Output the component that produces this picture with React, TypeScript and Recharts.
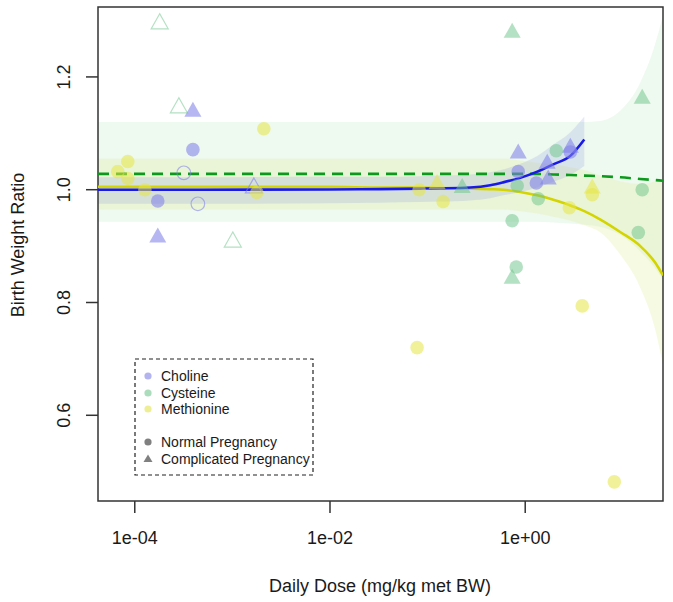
import React from "react";
import { ComposedChart, XAxis, YAxis, Area, Line, Scatter, ReferenceArea } from "recharts";

const FONT = '"Liberation Sans", Arial, Helvetica, sans-serif';
const TEXT = "#1a1a1a";

// plotting window (R style: log10 dose on x)
const X_MIN = 4.2e-5;
const X_MAX = 25.8;
const Y_MIN = 0.448;
const Y_MAX = 1.324;
const xTicks = [1e-4, 1e-2, 1];
const yTicks = [0.6, 0.8, 1.0, 1.2];

// fitted curves + confidence bands
const fitDose = [4.2e-5, 4.6e-4, 0.01, 0.0326, 0.084, 0.134, 0.273, 0.438, 0.594, 0.89, 1.33, 1.94, 2.9, 4.03, 5.9, 9.4, 15.1, 21.6, 25.8];
const cholineFit = [1.0, 1.0, 1.0005, 1.001, 1.002, 1.0025, 1.004, 1.008, 1.013, 1.021, 1.032, 1.045, 1.06, 1.089, null, null, null, null, null];
const cholineLo = [0.975, 0.975, 0.976, 0.977, 0.978, 0.979, 0.981, 0.985, 0.99, 0.996, 1.004, 1.014, 1.026, 1.042, null, null, null, null, null];
const cholineHi = [1.022, 1.022, 1.023, 1.023, 1.024, 1.025, 1.027, 1.031, 1.036, 1.046, 1.06, 1.08, 1.102, 1.13, null, null, null, null, null];
const cysteineFit = [1.028, 1.028, 1.028, 1.028, 1.028, 1.028, 1.028, 1.028, 1.028, 1.028, 1.028, 1.027, 1.026, 1.025, 1.024, 1.022, 1.019, 1.017, 1.016];
const cysteineLo = [0.943, 0.943, 0.943, 0.943, 0.943, 0.943, 0.943, 0.943, 0.943, 0.943, 0.943, 0.942, 0.94, 0.938, 0.934, 0.92, 0.89, 0.86, 0.84];
const cysteineHi = [1.12, 1.12, 1.12, 1.12, 1.12, 1.12, 1.12, 1.12, 1.12, 1.12, 1.12, 1.12, 1.12, 1.12, 1.122, 1.14, 1.19, 1.26, 1.31];
const methionineFit = [1.005, 1.005, 1.005, 1.004, 1.004, 1.003, 1.002, 1.001, 1.0, 0.996, 0.99, 0.982, 0.972, 0.962, 0.947, 0.925, 0.9, 0.87, 0.848];
const methionineLo = [0.965, 0.965, 0.965, 0.965, 0.965, 0.965, 0.965, 0.965, 0.965, 0.962, 0.958, 0.952, 0.945, 0.937, 0.924, 0.885, 0.826, 0.75, 0.69];
const methionineHi = [1.055, 1.055, 1.055, 1.055, 1.055, 1.055, 1.055, 1.055, 1.055, 1.052, 1.048, 1.045, 1.04, 1.035, 1.025, 1.015, 1.01, 1.015, 1.02];

// observations
const cholineNormal = [
  { dose: 3.94e-4, ratio: 1.071 },
  { dose: 1.72e-4, ratio: 0.98 },
  { dose: 0.848, ratio: 1.032 },
  { dose: 2.9, ratio: 1.067 },
  { dose: 1.3, ratio: 1.012 },
];
const cholineNormalOpen = [
  { dose: 3.18e-4, ratio: 1.03 },
  { dose: 4.43e-4, ratio: 0.975 },
];
const cholineComplicated = [
  { dose: 3.94e-4, ratio: 1.14 },
  { dose: 1.72e-4, ratio: 0.917 },
  { dose: 0.848, ratio: 1.066 },
  { dose: 2.9, ratio: 1.076 },
  { dose: 1.68, ratio: 1.048 },
  { dose: 1.72, ratio: 1.02 },
];
const cholineComplicatedOpen = [{ dose: 1.66e-3, ratio: 1.005 }];

const cysteineNormal = [
  { dose: 2.08, ratio: 1.069 },
  { dose: 0.828, ratio: 1.007 },
  { dose: 1.36, ratio: 0.984 },
  { dose: 15.8, ratio: 1.0 },
  { dose: 0.735, ratio: 0.945 },
  { dose: 14.4, ratio: 0.924 },
  { dose: 0.809, ratio: 0.863 },
];
const cysteineComplicated = [
  { dose: 0.735, ratio: 1.28 },
  { dose: 15.8, ratio: 1.163 },
  { dose: 0.226, ratio: 1.005 },
  { dose: 0.735, ratio: 0.844 },
];
const cysteineComplicatedOpen = [
  { dose: 1.8e-4, ratio: 1.296 },
  { dose: 2.83e-4, ratio: 1.147 },
  { dose: 1.01e-3, ratio: 0.909 },
];

const methionineNormal = [
  { dose: 2.1e-3, ratio: 1.108 },
  { dose: 8.48e-5, ratio: 1.05 },
  { dose: 6.69e-5, ratio: 1.032 },
  { dose: 8.48e-5, ratio: 1.02 },
  { dose: 1.27e-4, ratio: 1.0 },
  { dose: 1.78e-3, ratio: 0.995 },
  { dose: 0.0818, ratio: 1.0 },
  { dose: 0.144, ratio: 0.979 },
  { dose: 2.83, ratio: 0.968 },
  { dose: 4.86, ratio: 0.991 },
  { dose: 3.84, ratio: 0.794 },
  { dose: 0.078, ratio: 0.72 },
  { dose: 8.18, ratio: 0.482 },
];
const methionineComplicated = [
  { dose: 0.125, ratio: 1.012 },
  { dose: 4.86, ratio: 1.004 },
];

const COLORS = {
  choline: "rgba(130,130,235,0.58)",
  cysteine: "rgba(105,195,135,0.5)",
  methionine: "rgba(230,230,70,0.55)",
};

const fitRows = fitDose.map((dose, i) => ({
  dose,
  cholineFit: cholineFit[i],
  cholineBand: cholineLo[i] == null ? null : [cholineLo[i], cholineHi[i]],
  cysteineFit: cysteineFit[i],
  cysteineBand: [cysteineLo[i], cysteineHi[i]],
  methionineFit: methionineFit[i],
  methionineBand: [methionineLo[i], methionineHi[i]],
}));

const circle = (color: string, open = false) => (props: any) => (
  <circle
    cx={props.cx}
    cy={props.cy}
    r={6.8}
    fill={open ? "none" : color}
    stroke={open ? color : "none"}
    strokeWidth={1.2}
  />
);

const triangle = (color: string, open = false) => (props: any) => {
  const { cx, cy } = props;
  const pts = `${cx},${cy - 9} ${cx - 8.5},${cy + 6} ${cx + 8.5},${cy + 6}`;
  return <polygon points={pts} fill={open ? "none" : color} stroke={open ? color : "none"} strokeWidth={1.2} />;
};

const fmtDose = (v: number) => {
  const e = Math.round(Math.log10(v));
  return `1e${e < 0 ? "-" : "+"}${String(Math.abs(e)).padStart(2, "0")}`;
};

const XTick = (props: any) => (
  <text x={props.x} y={props.y + 31} textAnchor="middle" fontSize={18} fontFamily={FONT} fill={TEXT}>
    {fmtDose(props.payload.value)}
  </text>
);

const YTick = (props: any) => {
  const x = props.x - 16;
  return (
    <text
      x={x}
      y={props.y}
      transform={`rotate(-90, ${x}, ${props.y})`}
      textAnchor="middle"
      fontSize={18}
      fontFamily={FONT}
      fill={TEXT}
    >
      {Number(props.payload.value).toFixed(1)}
    </text>
  );
};

const legendItems = [
  { label: "Choline", color: "#b3b3f0", shape: "circle" },
  { label: "Cysteine", color: "#abdcbc", shape: "circle" },
  { label: "Methionine", color: "#eeee95", shape: "circle" },
  { label: "", color: "none", shape: "none" },
  { label: "Normal Pregnancy", color: "#808080", shape: "circle" },
  { label: "Complicated Pregnancy", color: "#808080", shape: "triangle" },
];

export default function App() {
  return (
    <div style={{ position: "absolute", left: 0, top: 0, width: 673, height: 602, background: "#fff" }}>
      <ComposedChart width={673} height={602} data={fitRows} margin={{ top: 7, right: 10, bottom: 0, left: 0 }}>
        <XAxis
          dataKey="dose"
          type="number"
          scale="log"
          domain={[X_MIN, X_MAX]}
          allowDataOverflow
          ticks={xTicks}
          interval={0}
          height={101}
          axisLine={false}
          tickSize={12}
          tickMargin={0}
          tickLine={{ stroke: "#333", strokeWidth: 1.5 }}
          tick={(p: any) => <XTick {...p} />}
        />
        <YAxis
          dataKey="ratio"
          type="number"
          domain={[Y_MIN, Y_MAX]}
          allowDataOverflow
          ticks={yTicks}
          interval={0}
          width={98}
          axisLine={false}
          tickSize={12}
          tickMargin={0}
          tickLine={{ stroke: "#333", strokeWidth: 1.5 }}
          tick={(p: any) => <YTick {...p} />}
        />

        <Area dataKey="cysteineBand" type="monotone" fill="#c6eccb" fillOpacity={0.3} stroke="none" isAnimationActive={false} />
        <Area dataKey="methionineBand" type="monotone" fill="#e4ee9c" fillOpacity={0.28} stroke="none" isAnimationActive={false} />
        <Area dataKey="cholineBand" type="monotone" fill="#8e9ce0" fillOpacity={0.22} stroke="none" isAnimationActive={false} />

        <Scatter data={cholineNormal} shape={circle(COLORS.choline)} isAnimationActive={false} />
        <Scatter data={cholineNormalOpen} shape={circle(COLORS.choline, true)} isAnimationActive={false} />
        <Scatter data={cholineComplicated} shape={triangle(COLORS.choline)} isAnimationActive={false} />
        <Scatter data={cholineComplicatedOpen} shape={triangle(COLORS.choline, true)} isAnimationActive={false} />
        <Scatter data={cysteineNormal} shape={circle(COLORS.cysteine)} isAnimationActive={false} />
        <Scatter data={cysteineComplicated} shape={triangle(COLORS.cysteine)} isAnimationActive={false} />
        <Scatter data={cysteineComplicatedOpen} shape={triangle(COLORS.cysteine, true)} isAnimationActive={false} />
        <Scatter data={methionineNormal} shape={circle(COLORS.methionine)} isAnimationActive={false} />
        <Scatter data={methionineComplicated} shape={triangle(COLORS.methionine)} isAnimationActive={false} />

        <Line dataKey="methionineFit" type="monotone" stroke="#d4d400" strokeWidth={2.6} dot={false} isAnimationActive={false} />
        <Line dataKey="cysteineFit" type="monotone" stroke="#0c9a1c" strokeWidth={2.6} strokeDasharray="11 7" dot={false} isAnimationActive={false} />
        <Line dataKey="cholineFit" type="monotone" stroke="#1a1ae8" strokeWidth={2.6} dot={false} isAnimationActive={false} />

        <ReferenceArea x1={X_MIN} x2={X_MAX} y1={Y_MIN} y2={Y_MAX} fill="none" fillOpacity={0} stroke="#333" strokeWidth={1.5} ifOverflow="visible" />
      </ComposedChart>

      <svg width={673} height={602} style={{ position: "absolute", left: 0, top: 0, pointerEvents: "none" }}>
        <text x={24} y={245} transform="rotate(-90, 24, 245)" textAnchor="middle" fontSize={18} fontFamily={FONT} fill={TEXT}>
          Birth Weight Ratio
        </text>
        <text x={380} y={592} textAnchor="middle" fontSize={18} fontFamily={FONT} fill={TEXT}>
          Daily Dose (mg/kg met BW)
        </text>

        <rect x={135} y={359} width={178} height={116} fill="#fff" stroke="#222" strokeWidth={1.2} strokeDasharray="4 3" />
        {legendItems.map((it, i) => {
          const cy = [376, 393, 409, 426, 442, 459][i];
          if (it.shape === "none") return null;
          return (
            <g key={it.label}>
              {it.shape === "circle" ? (
                <circle cx={148} cy={cy} r={3.6} fill={it.color} />
              ) : (
                <polygon points={`148,${cy - 4.5} ${143.5},${cy + 3} ${152.5},${cy + 3}`} fill={it.color} />
              )}
              <text x={161} y={cy + 5} fontSize={14} fontFamily={FONT} fill={TEXT}>
                {it.label}
              </text>
            </g>
          );
        })}
      </svg>
    </div>
  );
}
